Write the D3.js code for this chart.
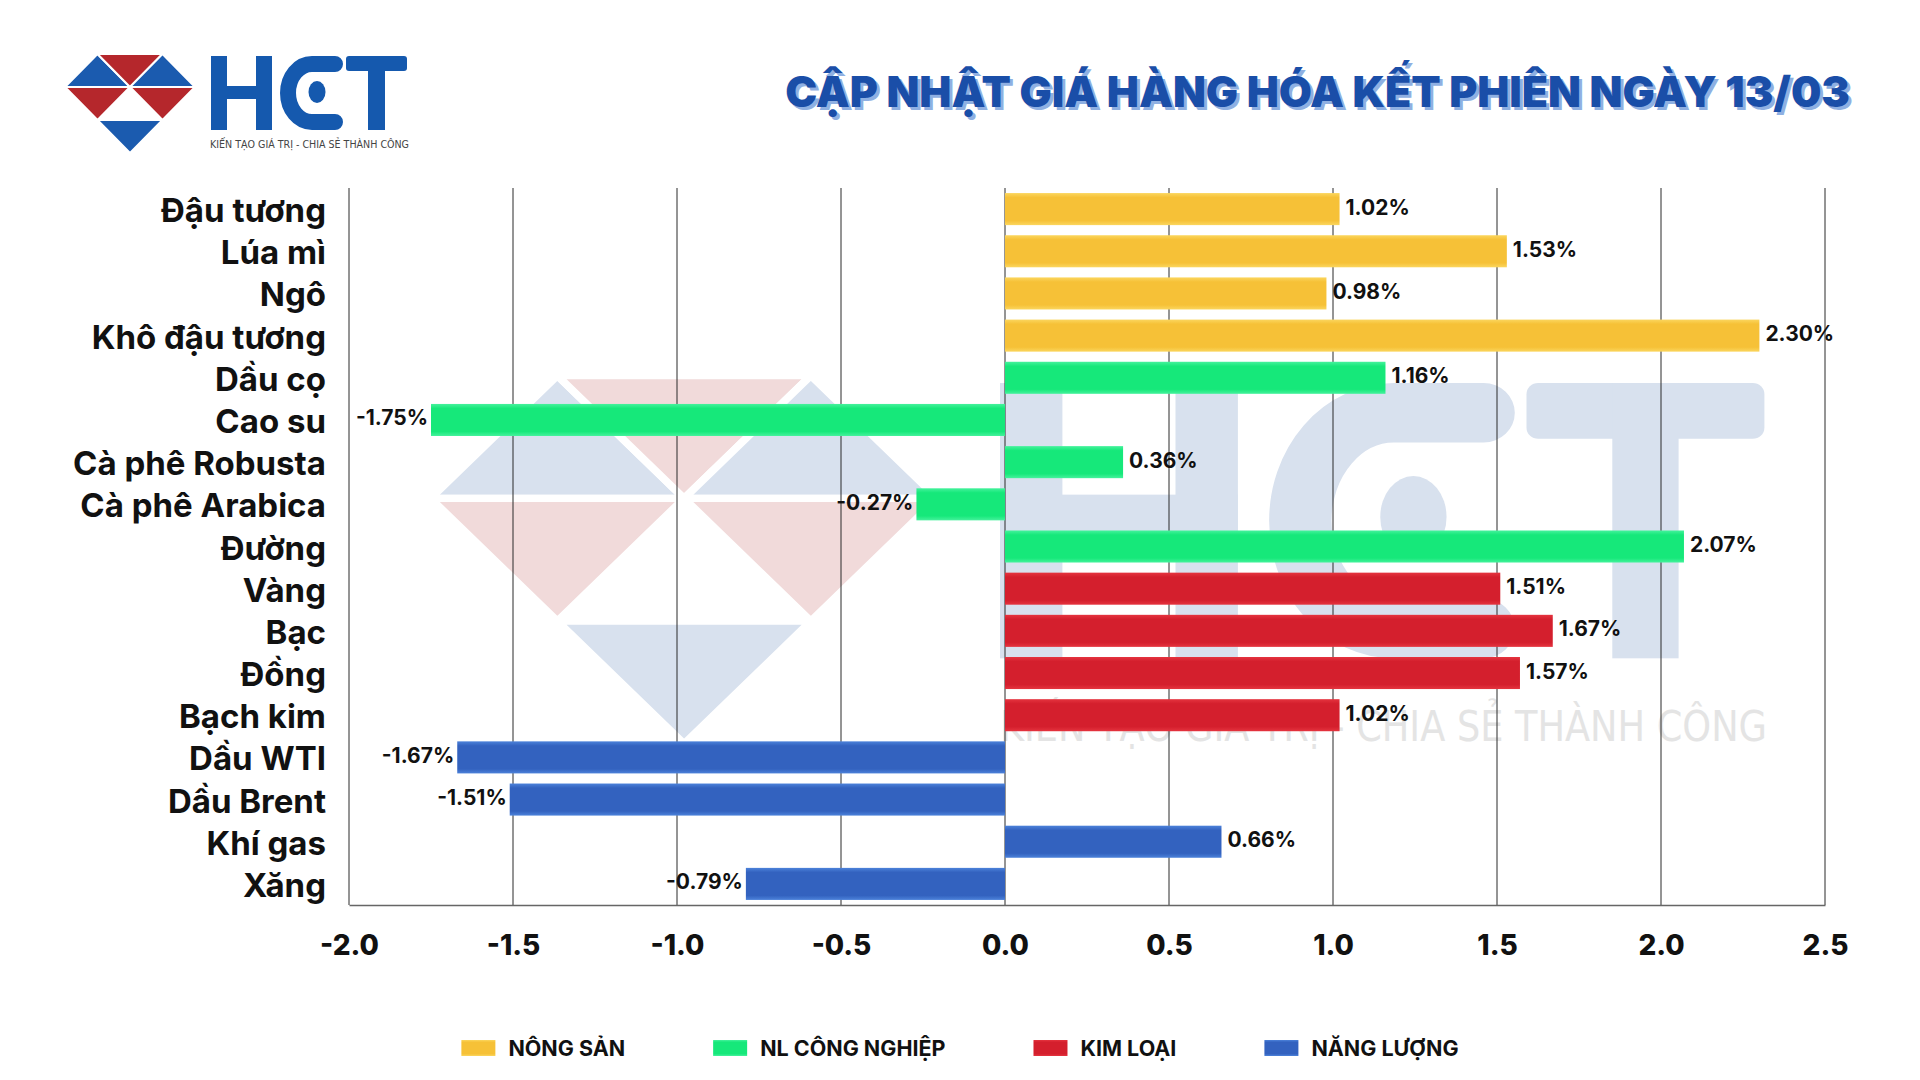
<!DOCTYPE html>
<html><head><meta charset="utf-8">
<script src="https://cdn.jsdelivr.net/npm/d3@7"></script>
<style>
html,body{margin:0;padding:0;background:#fff;}
svg{display:block;}
</style></head>
<body>
<svg id="chart" width="1920" height="1080"></svg>
<script>
const categories = ["Đậu tương","Lúa mì","Ngô","Khô đậu tương","Dầu cọ","Cao su","Cà phê Robusta","Cà phê Arabica","Đường","Vàng","Bạc","Đồng","Bạch kim","Dầu WTI","Dầu Brent","Khí gas","Xăng"];
const values = [1.02,1.53,0.98,2.30,1.16,-1.75,0.36,-0.27,2.07,1.51,1.67,1.57,1.02,-1.67,-1.51,0.66,-0.79];
const groupIndex = [0,0,0,0,1,1,1,1,1,2,2,2,2,3,3,3,3];
const groupNames = ["NÔNG SẢN","NL CÔNG NGHIỆP","KIM LOẠI","NĂNG LƯỢNG"];
const groupColors = ["#F6C137","#16E87A","#D41F2D","#3362BF"];
const groupLight = ["#FBD65E","#45F29C","#E5343F","#4C82DA"];
const xTicks = [-2.0,-1.5,-1.0,-0.5,0.0,0.5,1.0,1.5,2.0,2.5];
const titleText = "CẬP NHẬT GIÁ HÀNG HÓA KẾT PHIÊN NGÀY 13/03";
const taglineText = "KIẾN TẠO GIÁ TRỊ - CHIA SẺ THÀNH CÔNG";

const svg = d3.select("#chart");
const FONT = "Inter, 'Open Sans', sans-serif";
const CONDENSED = "'DejaVu Sans Condensed', 'Liberation Sans Narrow', sans-serif";

// gradients
const defs = svg.append("defs");
groupColors.forEach((c,i)=>{
  const g = defs.append("linearGradient").attr("id","grad"+i).attr("x1",0).attr("y1",0).attr("x2",0).attr("y2",1);
  g.append("stop").attr("offset","0%").attr("stop-color",groupLight[i]);
  g.append("stop").attr("offset","14%").attr("stop-color",c);
  g.append("stop").attr("offset","86%").attr("stop-color",c);
  g.append("stop").attr("offset","100%").attr("stop-color",groupLight[i]);
});

// logo drawing (geometry in the small-logo coordinates)
function drawLogo(g, blue, red, letters, strokeW){
  const s = 65, h = 33, x0 = 97.5, y0 = 54;
  const tris = [
    [[x0,y0],[x0-s/2,y0+h],[x0+s/2,y0+h], blue],
    [[x0,y0],[x0+s,y0],[x0+s/2,y0+h], red],
    [[x0+s,y0],[x0+s/2,y0+h],[x0+3*s/2,y0+h], blue],
    [[x0-s/2,y0+h],[x0+s/2,y0+h],[x0,y0+2*h], red],
    [[x0+s/2,y0+h],[x0+3*s/2,y0+h],[x0+s,y0+2*h], red],
    [[x0,y0+2*h],[x0+s,y0+2*h],[x0+s/2,y0+3*h], blue]
  ];
  tris.forEach(t=>{
    g.append("path").attr("d","M"+t[0]+"L"+t[1]+"L"+t[2]+"Z")
     .attr("fill",t[3]).attr("stroke","#fff").attr("stroke-width",strokeW).attr("stroke-linejoin","round");
  });
  // H
  g.append("rect").attr("x",211).attr("y",56).attr("width",16).attr("height",74).attr("fill",letters);
  g.append("rect").attr("x",256).attr("y",56).attr("width",16).attr("height",74).attr("fill",letters);
  g.append("rect").attr("x",211).attr("y",86).attr("width",61).attr("height",13).attr("fill",letters);
  // C
  g.append("path").attr("d","M335,64 L312,64 A24,29 0 0 0 312,122 L335,122")
   .attr("fill","none").attr("stroke",letters).attr("stroke-width",16).attr("stroke-linecap","round");
  g.append("ellipse").attr("cx",317).attr("cy",92).attr("rx",8.5).attr("ry",11).attr("fill",letters);
  // T
  g.append("rect").attr("x",346).attr("y",56).attr("width",61).attr("height",15).attr("rx",3).attr("fill",letters);
  g.append("rect").attr("x",368).attr("y",56).attr("width",17).attr("height",74).attr("fill",letters);
}

// watermark
const wm = svg.append("g").attr("transform","translate(430.6,375.6) scale(3.9,3.72) translate(-65,-54)");
drawLogo(wm, "#D8E1EE", "#F1DADA", "#D8E1EE", 2);
svg.append("text").attr("x",1000).attr("y",741).attr("font-family",CONDENSED)
  .attr("font-size",42).attr("fill","#E4E4E4").attr("textLength",767).attr("lengthAdjust","spacingAndGlyphs")
  .text(taglineText);

// header logo
drawLogo(svg.append("g"), "#1B5BAF", "#B5272C", "#1559AE", 2);
svg.append("text").attr("x",210).attr("y",148).attr("font-family",CONDENSED)
  .attr("font-size",10).attr("fill","#444").attr("textLength",199).attr("lengthAdjust","spacingAndGlyphs")
  .text(taglineText);

// title
const title = svg.append("g");
const tShadow = title.append("text").attr("x",1853).attr("y",110).attr("text-anchor","end")
  .attr("font-family",FONT).attr("font-weight",900).attr("font-size",40).attr("fill","#8FB0E2").text(titleText);
const tMain = title.append("text").attr("x",1850).attr("y",107).attr("text-anchor","end")
  .attr("font-family",FONT).attr("font-weight",900).attr("font-size",40).attr("fill","#1A4EA8").text(titleText);
const tw = tMain.node().getComputedTextLength();
const tfs = 40*1065/tw;
tShadow.attr("font-size",tfs); tMain.attr("font-size",tfs);

// scales
const x = d3.scaleLinear().domain([-2,2.5]).range([349,1825]);
const y = d3.scaleBand().domain(categories).range([188,905]).paddingInner(0.24).paddingOuter(0.12);

// gridlines
svg.append("g").selectAll("line").data(xTicks).join("line")
  .attr("x1",d=>x(d)).attr("x2",d=>x(d)).attr("y1",188).attr("y2",905)
  .attr("stroke","#2a2a2a").attr("stroke-width",1);

// x axis
const axis = svg.append("g").attr("transform","translate(0,905)")
  .call(d3.axisBottom(x).tickValues(xTicks).tickFormat(d=>d.toFixed(1)).tickSize(0).tickPadding(30).tickSizeOuter(0));
axis.select(".domain").attr("stroke","#666").attr("stroke-width",1.5);
axis.selectAll("text").attr("font-family",FONT).attr("font-weight",800).attr("font-size",28).attr("fill","#111");

// bars
const data = categories.map((c,i)=>({c, v:values[i], g:groupIndex[i]}));
svg.append("g").selectAll("rect").data(data).join("rect")
  .attr("x",d=>x(Math.min(0,d.v))).attr("width",d=>Math.abs(x(d.v)-x(0)))
  .attr("y",d=>y(d.c)).attr("height",y.bandwidth())
  .attr("fill",d=>"url(#grad"+d.g+")");

// value labels
svg.append("g").selectAll("text").data(data).join("text")
  .attr("x",d=>d.v>=0 ? x(d.v)+6 : x(d.v)-3)
  .attr("y",d=>y(d.c)+y.bandwidth()/2-2)
  .attr("dominant-baseline","central")
  .attr("text-anchor",d=>d.v>=0?"start":"end")
  .attr("font-family",FONT).attr("font-weight",700).attr("font-size",21).attr("fill","#111")
  .text(d=>d.v.toFixed(2)+"%");

// category labels
svg.append("g").selectAll("text").data(categories).join("text")
  .attr("x",326).attr("y",d=>y(d)+y.bandwidth()/2+1)
  .attr("dominant-baseline","central").attr("text-anchor","end")
  .attr("font-family",FONT).attr("font-weight",700).attr("font-size",33).attr("fill","#111")
  .text(d=>d);

// legend
const leg = svg.append("g");
const items = groupNames.map((n,i)=>{
  const gi = leg.append("g");
  gi.append("rect").attr("x",0).attr("y",-8).attr("width",34).attr("height",16).attr("fill","url(#grad"+i+")");
  const t = gi.append("text").attr("x",47).attr("y",0).attr("dominant-baseline","central")
    .attr("font-family",FONT).attr("font-weight",700).attr("font-size",21.5).attr("fill","#111").text(n);
  return {gi, w: 47 + t.node().getComputedTextLength()};
});
const gap = 88;
const total = d3.sum(items,d=>d.w) + gap*(items.length-1);
let cx = 960 - total/2;
items.forEach(it=>{ it.gi.attr("transform",`translate(${cx},1048)`); cx += it.w + gap; });
</script>
</body></html>
